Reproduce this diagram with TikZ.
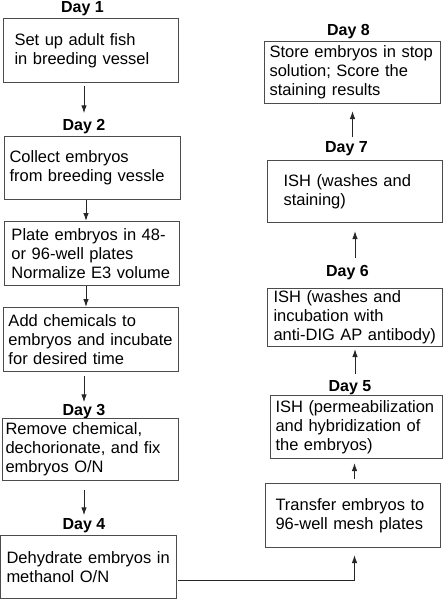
\documentclass[tikz,border=0pt]{standalone}
\usepackage{fontspec}
\setmainfont{Liberation Sans}
\usetikzlibrary{arrows.meta}

\begin{document}
\begin{tikzpicture}[x=1pt,y=-1pt,
  stepbox/.style={draw=black!70, line width=1pt, anchor=north west, align=left, inner ysep=0pt, font=\fontsize{16.5}{19}\selectfont},
  day/.style={font=\fontsize{16}{19}\selectfont\bfseries, inner sep=0pt, text height=11.5pt, text depth=3.5pt},
  link/.style={line width=1pt, black!85, -{Latex[length=8pt,width=5.5pt]}}]
\useasboundingbox (0,0) rectangle (443,600);

\node [day] (d1) at (82.5,8) {Day 1};
\node [stepbox, minimum width=175pt, minimum height=64pt, inner xsep=11pt, text width=153pt] (fish) at (3,18) {Set up adult fish\\in breeding vessel};
\node [day] (d2) at (84,126) {Day 2};
\node [stepbox, minimum width=176pt, minimum height=63pt, inner xsep=5pt, text width=166pt] (collect) at (4,136) {Collect embryos\\from breeding vessle};
\node [stepbox, minimum width=175pt, minimum height=64pt, inner xsep=7pt, text width=161pt] (plate) at (4,221) {Plate embryos in 48-\\or 96-well plates\\Normalize E3 volume};
\node [stepbox, minimum width=175pt, minimum height=64pt, inner xsep=5pt, text width=165pt] (treat) at (3,307) {Add chemicals to\\embryos and incubate\\for desired time};
\node [day] (d3) at (84,411) {Day 3};
\node [stepbox, minimum width=176pt, minimum height=62pt, inner xsep=3pt, text width=170pt] (fix) at (2,418) {Remove chemical,\\dechorionate, and fix\\embryos O/N};
\node [day] (d4) at (84,525) {Day 4};
\node [stepbox, minimum width=176pt, minimum height=63pt, inner xsep=6pt, text width=164pt] (dehyd) at (0,535) {Dehydrate embryos in\\methanol O/N};

\node [day] (d8) at (348.5,31) {Day 8};
\node [stepbox, minimum width=176pt, minimum height=62pt, inner xsep=5pt, text width=166pt] (store) at (264,41) {Store embryos in stop\\solution; Score the\\staining results};
\node [day] (d7) at (346.5,148) {Day 7};
\node [stepbox, minimum width=175pt, minimum height=62pt, inner xsep=16pt, text width=143pt] (staining) at (267,160) {ISH (washes and\\staining)};
\node [day] (d6) at (347.5,272) {Day 6};
\node [stepbox, minimum width=175pt, minimum height=58pt, inner xsep=6pt, text width=163pt] (antibody) at (267,288) {ISH (washes and\\incubation with\\anti-DIG AP antibody)};
\node [day] (d5) at (350,387.5) {Day 5};
\node [stepbox, minimum width=172pt, minimum height=63pt, inner xsep=5pt, text width=162pt] (hyb) at (270,395) {ISH (permeabilization\\and hybridization of\\the embryos)};
\node [stepbox, minimum width=175pt, minimum height=64pt, inner xsep=10pt, text width=155pt] (transfer) at (265,483) {Transfer embryos to\\96-well mesh plates};

\draw [link, shorten <=3pt, shorten >=5pt] (fish.south -| d2.north) -- (d2.north);
\draw [link] ([xshift=2pt]collect.south -| d2) -- ([xshift=2pt]plate.north -| d2);
\draw [link] ([xshift=2pt]plate.south -| d2) -- ([xshift=2pt]treat.north -| d2);
\draw [link, shorten <=4pt, shorten >=1pt] (treat.south -| d3) -- (d3.north);
\draw [link, shorten <=9pt, shorten >=2pt] (fix.south -| d4) -- (d4.north);
\draw [link, shorten >=7pt] ([xshift=1pt]dehyd.east |- 0,580) -| ([xshift=1.5pt]transfer.south);
\draw [link, shorten <=4pt, shorten >=4pt] ([xshift=1.5pt]transfer.north) -- ([xshift=1.5pt]transfer.north |- hyb.south);
\draw [link, shorten <=6pt, shorten >=2pt] (d5.north -| antibody.south) -- (antibody.south);
\draw [link, shorten <=6pt, shorten >=8pt] (d6.north -| staining.south) -- (staining.south);
\draw [link, shorten <=3pt, shorten >=7pt] (d7.north -| store.south) -- (store.south);
\end{tikzpicture}
\end{document}
